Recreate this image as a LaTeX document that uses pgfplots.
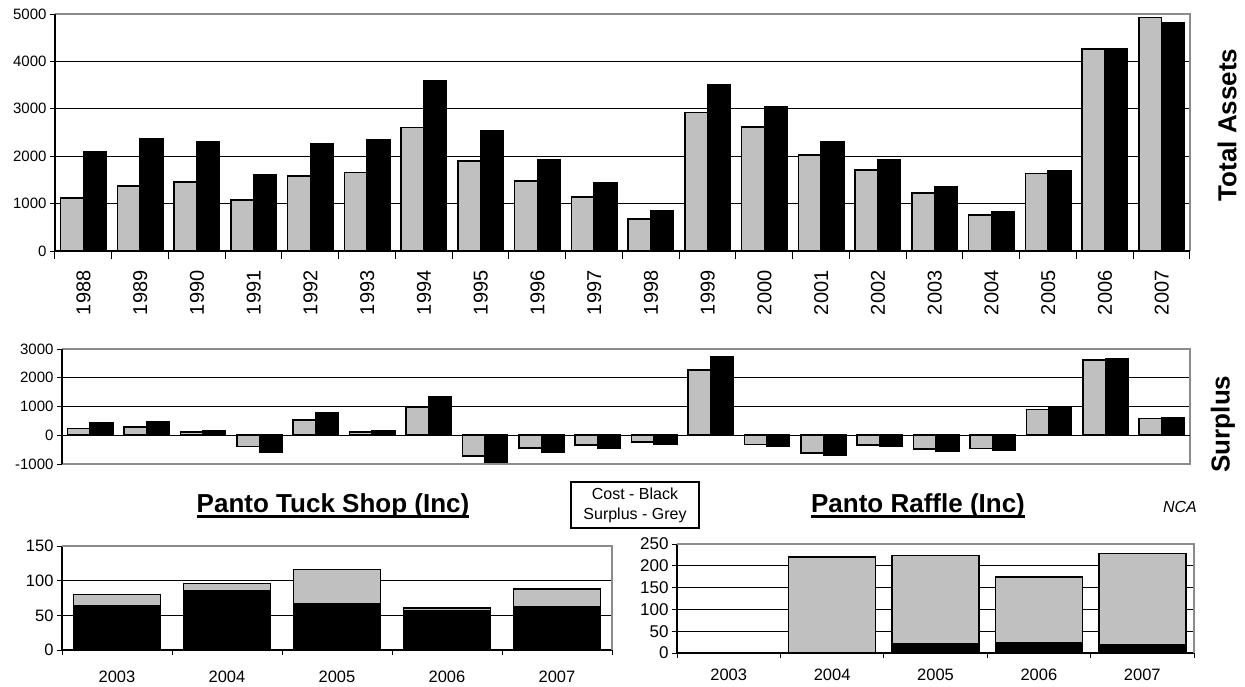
\documentclass[border=0pt]{standalone}
\usepackage{fontspec}
\setmainfont{Liberation Sans}
\usepackage{pgfplots}
\pgfplotsset{compat=1.18}

\definecolor{barGrey}{HTML}{C0C0C0}
\definecolor{frameGrey}{HTML}{8C8C8C}

\pgfplotsset{
  panel/.style={
    scale only axis,
    axis line style={draw=none},
    ymajorgrids,
    major grid style={black, line width=0.8pt},
    ytick align=outside, ytick pos=left,
    xtick align=outside, xtick pos=left,
    major y tick style={black, line width=1pt},
    major x tick style={draw=none},
    minor x tick style={black, line width=1pt},
    major tick length=5pt, minor tick length=8pt,
    clip=false,
  },
  greybar/.style={fill=barGrey, draw=black, line width=1.6pt},
  blackbar/.style={fill=black, draw=black, line width=1.6pt},
}
\newcommand{\frameit}{%
  \draw[frameGrey, line width=1.6pt] (rel axis cs:0,1) -- (rel axis cs:1,1) -- (rel axis cs:1,0);
  \draw[black, line width=1.2pt] (rel axis cs:0,1) -- (rel axis cs:0,0) -- (rel axis cs:1,0);}

\begin{document}
\begin{tikzpicture}
\path[use as bounding box] (0pt,0pt) rectangle (1245pt,-686pt);

% ---- Total Assets
\begin{axis}[panel, at={(55pt,-251pt)}, anchor=south west,
  width=1135pt, height=237pt,
  xmin=-0.5, xmax=19.5, ymin=0, ymax=5000,
  ytick={0,1000,2000,3000,4000,5000},
  yticklabels={0,1000,2000,3000,4000,5000},
  yticklabel style={font=\fontsize{15}{18}\selectfont},
  xtick={0,...,19},
  xticklabels={1988,1989,1990,1991,1992,1993,1994,1995,1996,1997,1998,1999,2000,2001,2002,2003,2004,2005,2006,2007},
  xticklabel style={rotate=90, anchor=east, font=\fontsize{20}{24}\selectfont},
  xticklabel shift=11pt,
  minor xtick={-0.5,0.5,...,19.5},
]
\addplot[ybar, bar width=0.4, bar shift=-0.2, greybar] coordinates {
(0,1120) (1,1373) (2,1458) (3,1070) (4,1577) (5,1655) (6,2606) (7,1894) (8,1472) (9,1141)
(10,676) (11,2923) (12,2613) (13,2021) (14,1704) (15,1225) (16,754) (17,1634) (18,4261) (19,4923)};
\addplot[ybar, bar width=0.4, bar shift=0.2, blackbar] coordinates {
(0,2092) (1,2373) (2,2303) (3,1613) (4,2268) (5,2352) (6,3585) (7,2542) (8,1915) (9,1444)
(10,838) (11,3500) (12,3049) (13,2310) (14,1923) (15,1345) (16,817) (17,1690) (18,4268) (19,4817)};
\frameit
\end{axis}

% ---- Surplus
\begin{axis}[panel, at={(62pt,-464pt)}, anchor=south west,
  width=1128pt, height=115pt,
  xmin=-0.5, xmax=19.5, ymin=-1000, ymax=3000,
  ytick={-1000,0,1000,2000,3000},
  yticklabels={-1000,0,1000,2000,3000},
  yticklabel style={font=\fontsize{15}{18}\selectfont},
  xtick=\empty,
]
\addplot[ybar, bar width=0.4, bar shift=-0.2, greybar] coordinates {
(0,235) (1,282) (2,118) (3,-388) (4,541) (5,118) (6,976) (7,-717) (8,-447) (9,-329)
(10,-235) (11,2270) (12,-318) (13,-611) (14,-329) (15,-470) (16,-459) (17,894) (18,2611) (19,588)};
\addplot[ybar, bar width=0.4, bar shift=0.2, blackbar] coordinates {
(0,423) (1,470) (2,165) (3,-600) (4,764) (5,153) (6,1329) (7,-976) (8,-600) (9,-447)
(10,-306) (11,2728) (12,-388) (13,-706) (14,-376) (15,-553) (16,-529) (17,941) (18,2670) (19,612)};
\draw[frameGrey, line width=1.6pt] (rel axis cs:0,1) -- (rel axis cs:1,1) -- (rel axis cs:1,0) -- (rel axis cs:0,0);
\draw[black, line width=1.2pt] (rel axis cs:0,1) -- (rel axis cs:0,0);
\draw[black, line width=1pt] (axis cs:-0.5,0) -- (axis cs:19.5,0);
\end{axis}

% ---- Panto Tuck Shop
\begin{axis}[panel, at={(62pt,-650pt)}, anchor=south west,
  width=550pt, height=104pt,
  xmin=-0.5, xmax=4.5, ymin=0, ymax=150,
  ytick={0,50,100,150}, yticklabels={0,50,100,150},
  yticklabel style={font=\fontsize{16.5}{19}\selectfont},
  xtick={0,...,4}, xticklabels={2003,2004,2005,2006,2007},
  xticklabel style={font=\fontsize{16.5}{19}\selectfont},
  xticklabel shift=12pt,
  minor xtick={-0.5,0.5,...,4.5}, minor tick length=5pt,
  ybar stacked, bar width=0.79,
]
\addplot[blackbar] coordinates {(0,64) (1,85) (2,67) (3,57) (4,62.5)};
\addplot[greybar] coordinates {(0,16) (1,11) (2,49) (3,4) (4,25.5)};
\frameit
\end{axis}

% ---- Panto Raffle
\begin{axis}[panel, at={(677pt,-653pt)}, anchor=south west,
  width=517pt, height=109pt,
  xmin=-0.5, xmax=4.5, ymin=0, ymax=250,
  ytick={0,50,100,150,200,250}, yticklabels={0,50,100,150,200,250},
  yticklabel style={font=\fontsize{17}{20}\selectfont},
  xtick={0,...,4}, xticklabels={2003,2004,2005,2006,2007},
  xticklabel style={font=\fontsize{16.5}{19}\selectfont},
  xticklabel shift=7pt,
  minor xtick={-0.5,0.5,...,4.5}, minor tick length=5pt,
  ybar stacked, bar width=0.84,
]
\addplot[blackbar] coordinates {(1,0) (2,21) (3,24) (4,18)};
\addplot[greybar] coordinates {(1,220.6) (2,202.7) (3,151) (4,210)};
\frameit
\end{axis}

% ---- labels
\node[rotate=90, font=\bfseries\fontsize{26}{30}\selectfont] at (1227pt,-125pt) {Total Assets};
\node[rotate=90, font=\bfseries\fontsize{26}{30}\selectfont] at (1223pt,-424pt) {Surplus};
\node[anchor=base, inner sep=0pt, font=\bfseries\fontsize{26}{30}\selectfont] (t1) at (333pt,-512pt) {Panto Tuck Shop (Inc)};
\draw[line width=3pt] ([yshift=-4.5pt]t1.base west) -- ([yshift=-4.5pt]t1.base east);
\node[anchor=base, inner sep=0pt, font=\bfseries\fontsize{26}{30}\selectfont] (t2) at (918pt,-512pt) {Panto Raffle (Inc)};
\draw[line width=3pt] ([yshift=-4.5pt]t2.base west) -- ([yshift=-4.5pt]t2.base east);
\node[font=\itshape\fontsize{16}{19}\selectfont] at (1180pt,-507pt) {NCA};
\node[draw, line width=1.6pt, minimum width=128pt, minimum height=46pt, align=center,
  font=\fontsize{16}{20}\selectfont] at (635pt,-505pt) {Cost - Black\\Surplus - Grey};
\end{tikzpicture}
\end{document}
